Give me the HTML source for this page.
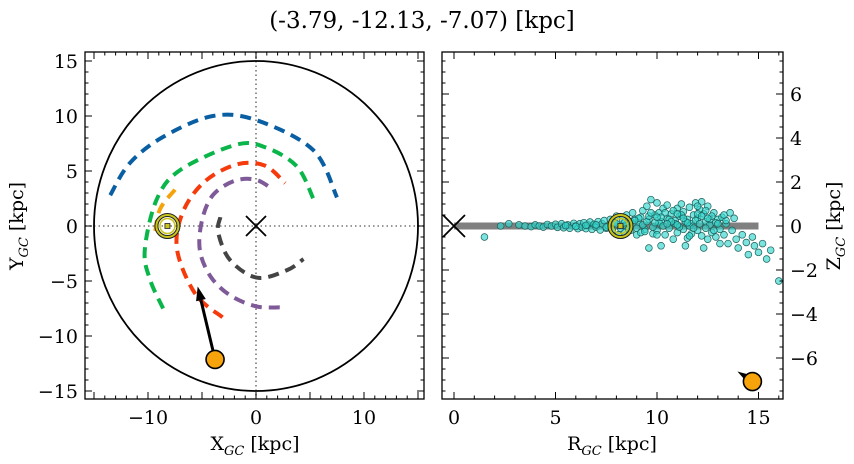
<!DOCTYPE html>
<html><head><meta charset="utf-8"><style>
html,body{margin:0;padding:0;background:#fff;}
svg{display:block;font-family:"DejaVu Serif","Liberation Serif",serif;}
</style></head><body>
<svg id="fig" width="854" height="464" viewBox="0 0 854 464" xmlns="http://www.w3.org/2000/svg">
<text x="422" y="28" font-size="23" text-anchor="middle">(-3.79, -12.13, -7.07) [kpc]</text>
<g id="left"></g>
<g id="right"></g>
</svg>
<script>
// ---- data ----
const armBlueX=[-13.5,-11.7,-8.6,-4,0.1,5.3,7.5];
const armBlueY=[2.8,5.7,8.1,10,9.6,6.9,2.6];
const armGreenX=[-8.6,-9.8,-10.3,-9.2,-7,-1.8,1,3.8,5.3];
const armGreenY=[-7.5,-4.9,-2.2,2.4,5.1,7.4,7.1,5.4,2.5];
const armRedX=[-3.1,-5.6,-7.3,-6.8,-4.8,-1.8,0.8,2.7];
const armRedY=[-8.3,-6.2,-2.2,1.2,4.0,5.6,5.5,3.9];
const armPurpleX=[2.2,0,-2.4,-4.2,-5.2,-5.0,-4.0,-2.0,0,1.6];
const armPurpleY=[-7.4,-7.3,-6.3,-4.6,-2.2,0.5,2.8,4.1,4.2,3.3];
const armGrayX=[-3.3,-3.5,-2.4,0.1,2.9,4.4];
const armGrayY=[0.8,-0.6,-3.1,-4.7,-4.0,-3.0];
const armOrangeX=[-7.5,-8.9,-9.4];
const armOrangeY=[3.3,1.5,-1.0];
const starX=-3.79, starY=-12.13, starZ=-7.07, starR=14.7;
const sunX=-8.2, sunR=8.2;
const arrowTipX=-5.4, arrowTipY=-5.5;
const xTicksL=[-10,0,10], yTicksL=[-15,-10,-5,0,5,10,15];
const xTicksR=[0,5,10,15], yTicksR=[-6,-4,-2,0,2,4,6];
const scatR=[
1.5,2.3,2.7,3.2,3.5,3.8,4.0,4.2,4.4,4.6,
4.8,5.0,5.1,5.3,5.4,5.6,5.7,5.9,6.0,6.1,
6.2,6.3,6.4,6.5,6.6,6.7,6.8,6.9,7.0,7.1,
7.2,7.3,7.4,7.5,7.6,7.7,7.8,7.9,8.0,8.1,
8.3,8.4,8.5,8.6,8.7,8.8,8.9,9.0,9.1,9.2,
9.3,9.4,9.5,9.6,9.6,9.7,9.8,9.9,10.0,10.0,
10.1,10.2,10.2,10.3,10.4,10.5,10.5,10.6,10.7,10.8,
10.9,11.0,11.0,11.1,11.2,11.3,11.3,11.4,11.5,11.5,
11.6,11.7,11.7,11.8,11.9,12.0,12.0,12.1,12.2,12.3,
12.3,12.4,12.5,12.5,12.6,12.7,12.8,12.9,13.0,13.1,
13.2,13.3,13.4,13.5,13.6,13.7,13.9,14.0,14.2,14.4,
14.5,14.7,14.8,15.0,15.2,15.4,15.6,16.0,13.8,12.2,
8.5,8.8,9.0,9.3,9.5,9.8,10.1,10.3,10.6,10.9,
11.1,11.4,11.6,11.9,12.1,12.4,12.6,12.9,13.1,13.4,
9.2,9.6,10.0,10.4,10.8,11.2,11.6,12.0,12.4,12.8,
8.7,9.1,9.4,9.9,10.2,10.7,11.0,11.8,12.2,12.7,
5.5,6.0,6.5,7.0,7.5,8.0,8.2,8.4,8.6,8.9,
10.0,10.5,11.0,11.5,12.0,12.5,13.0,13.3,9.7,11.3];
const scatZ=[
-0.5,0.0,0.1,0.05,0.0,-0.03,0.05,0.0,-0.05,0.07,
0.0,0.08,-0.06,0.1,-0.08,0.05,-0.1,0.12,0.0,-0.12,
0.1,-0.05,0.15,-0.12,0.05,0.18,-0.15,0.08,-0.05,0.2,
-0.18,0.1,0.25,-0.1,0.0,0.3,-0.2,0.15,0.45,-0.4,
0.3,-0.3,0.5,0.1,-0.2,0.6,0.3,-0.4,0.15,0.4,
0.7,-0.15,0.9,-1.0,0.3,1.2,-0.35,0.5,1.05,-0.2,
0.6,-0.9,0.2,0.8,-0.4,0.35,0.95,-0.1,0.55,-0.6,
0.25,0.8,-0.3,0.45,1.0,-0.15,0.65,-0.9,0.3,-0.55,
0.85,0.1,-0.35,0.5,1.05,-0.2,0.35,0.75,-0.45,-1.0,
0.55,0.2,-0.6,0.9,0.05,-0.3,0.6,-0.5,0.3,-0.8,
0.4,-0.4,0.1,-0.8,0.6,-0.2,-0.6,-1.0,-0.4,-0.75,
-1.3,-0.5,-0.9,-1.2,-0.8,-1.5,-1.1,-2.5,0.35,1.1,
0.0,0.1,-0.1,0.05,0.2,-0.05,0.15,0.0,0.3,0.1,
-0.05,0.2,0.0,0.25,0.1,-0.1,0.3,0.15,-0.15,0.25,
-0.3,0.45,-0.4,0.6,0.7,0.5,-0.45,0.55,0.7,-0.2,
0.2,0.35,-0.25,0.15,0.4,0.2,0.55,-0.1,0.45,0.45,
0.02,-0.02,0.03,0.05,-0.05,0.1,-0.1,0.15,-0.15,0.25,
0.4,0.1,0.05,0.15,0.9,0.35,0.1,0.5,0.6,0.35];

const NS="http://www.w3.org/2000/svg";
function mk(p,tag,at){const e=document.createElementNS(NS,tag);for(const k in at)e.setAttribute(k,at[k]);p.appendChild(e);return e;}
function path(pts){let d="M"+pts[0][0]+","+pts[0][1];for(let i=0;i<pts.length-1;i++){const p0=pts[Math.max(0,i-1)],p1=pts[i],p2=pts[i+1],p3=pts[Math.min(pts.length-1,i+2)];d+=" C"+(p1[0]+(p2[0]-p0[0])/6)+","+(p1[1]+(p2[1]-p0[1])/6)+" "+(p2[0]-(p3[0]-p1[0])/6)+","+(p2[1]-(p3[1]-p1[1])/6)+" "+p2[0]+","+p2[1];}return d;}
const SUB='<tspan font-size="13" font-style="italic" dy="5">GC</tspan><tspan dy="-5"> [kpc]</tspan>';

// ---- left panel ----
const L=document.getElementById('left');
const Lx0=85,Lx1=424,Ly0=52,Ly1=399;
const lx=v=>256+v*10.8, ly=v=>226-v*11.0;
let e;
e=mk(L,'line',{x1:Lx0,x2:Lx1,y1:ly(0),y2:ly(0),stroke:'#777','stroke-width':1.6,'stroke-dasharray':'1.5,3'});


e=mk(L,'line',{x1:lx(0),x2:lx(0),y1:Ly0,y2:Ly1,stroke:'#777','stroke-width':1.6,'stroke-dasharray':'1.5,3'});


e=mk(L,'ellipse',{cx:lx(0),cy:ly(0),rx:15*10.8,ry:15*11,fill:'none',stroke:'#000','stroke-width':1.8});


const arms=[[armBlueX,armBlueY,'#0a5fa3','blue'],[armGreenX,armGreenY,'#0ab54a','green'],[armRedX,armRedY,'#f53a0c','red'],[armPurpleX,armPurpleY,'#7f5a98','purple'],[armGrayX,armGrayY,'#444','gray'],[armOrangeX,armOrangeY,'#f5a30a','orange']];
arms.forEach(a=>{const pts=a[0].map((x,i)=>[lx(x),ly(a[1][i])]);
 e=mk(L,'path',{d:path(pts),fill:'none',stroke:a[2],'stroke-width':4,'stroke-dasharray':'11,7'});
 
 });
e=mk(L,'path',{d:`M${lx(0)-10},${ly(0)-10}L${lx(0)+10},${ly(0)+10}M${lx(0)-10},${ly(0)+10}L${lx(0)+10},${ly(0)-10}`,stroke:'#000','stroke-width':1.8});


function sun(p,cx,cy,nm){const g=mk(p,'g',{});
 
 
 mk(g,'circle',{cx:cx,cy:cy,r:11,fill:'none',stroke:'#222','stroke-width':4});
 mk(g,'circle',{cx:cx,cy:cy,r:11,fill:'none',stroke:'#c8c41a','stroke-width':2});
 mk(g,'circle',{cx:cx,cy:cy,r:7.5,fill:'none',stroke:'#c8c41a','stroke-width':1.5});
 mk(g,'rect',{x:cx-2.5,y:cy-2.5,width:5,height:5,fill:'#c8c41a',stroke:'#222','stroke-width':0.8});}
sun(L,lx(sunX),ly(0),'sun-marker-xy');
{const x1=lx(starX),y1=ly(starY),x2=lx(arrowTipX),y2=ly(arrowTipY);const dx=x2-x1,dy=y2-y1,len=Math.hypot(dx,dy),ux=dx/len,uy=dy/len;
 const bx=x2-ux*14,by=y2-uy*14;
 e=mk(L,'line',{x1:x1,y1:y1,x2:bx,y2:by,stroke:'#000','stroke-width':3});
 
 
 e=mk(L,'polygon',{points:`${x2},${y2} ${bx-uy*5},${by+ux*5} ${bx+uy*5},${by-ux*5}`,fill:'#000'});
 
 }
e=mk(L,'circle',{cx:lx(starX),cy:ly(starY),r:9,fill:'#f7a30c',stroke:'#000','stroke-width':1.6});



function frame(p,x0,x1,y0,y1,nm){e=mk(p,'rect',{x:x0,y:y0,width:x1-x0,height:y1-y0,fill:'none',stroke:'#000','stroke-width':1.3});
 
 }
function ticks(p,x0,x1,y0,y1,sx,sy,xmin,xmax,xmaj,xmin_,ymin,ymax,ymaj,ymin_){
 const g=mk(p,'g',{stroke:'#000','stroke-width':1});
 for(let v=Math.ceil(xmin/xmin_)*xmin_;v<=xmax;v+=xmin_){const X=sx(v);const maj=Math.abs(v/xmaj-Math.round(v/xmaj))<1e-6;const l=maj?7:3.5;
  mk(g,'line',{x1:X,x2:X,y1:y1,y2:y1-l});mk(g,'line',{x1:X,x2:X,y1:y0,y2:y0+l});}
 for(let v=Math.ceil(ymin/ymin_)*ymin_;v<=ymax;v+=ymin_){const Y=sy(v);const maj=Math.abs(v/ymaj-Math.round(v/ymaj))<1e-6;const l=maj?7:3.5;
  mk(g,'line',{y1:Y,y2:Y,x1:x0,x2:x0+l});mk(g,'line',{y1:Y,y2:Y,x1:x1,x2:x1-l});}}
ticks(L,Lx0,Lx1,Ly0,Ly1,lx,ly,-15.8,15.6,5,1,-15.7,15.8,5,1);
frame(L,Lx0,Lx1,Ly0,Ly1,'xy-axes-frame');
xTicksL.forEach(v=>{e=mk(L,'text',{x:lx(v),y:424,'font-size':19,'text-anchor':'middle'});e.textContent=String(v).replace('-','\u2212');
 
 });
yTicksL.forEach(v=>{e=mk(L,'text',{x:78,y:ly(v)+7,'font-size':19,'text-anchor':'end'});e.textContent=String(v).replace('-','\u2212');
 
 });
e=mk(L,'text',{x:255,y:450,'font-size':19,'text-anchor':'middle'});e.innerHTML='X'+SUB;


e=mk(L,'text',{x:0,y:0,'font-size':19,'text-anchor':'middle',transform:'translate(23,226) rotate(-90)'});e.innerHTML='Y'+SUB;



// ---- right panel ----
const R=document.getElementById('right');
const Rx0=442,Rx1=783,Ry0=52,Ry1=399;
const rx=v=>454+v*20.3, rz=v=>226-v*22.0;
const cp=mk(R,'clipPath',{id:'rclip'});mk(cp,'rect',{x:Rx0,y:Ry0,width:Rx1-Rx0,height:Ry1-Ry0});
const RG=mk(R,'g',{'clip-path':'url(#rclip)'});
e=mk(RG,'line',{x1:rx(0),x2:rx(15),y1:rz(0),y2:rz(0),stroke:'#808080','stroke-width':7});


const sg=mk(RG,'g',{});


scatR.forEach((r,i)=>{e=mk(sg,'circle',{cx:rx(r),cy:rz(scatZ[i]),r:3.4,fill:'rgba(50,215,205,0.65)',stroke:'#1b5e5a','stroke-width':0.7});
 
 });
e=mk(RG,'path',{d:`M${rx(0)-11},${rz(0)-11}L${rx(0)+11},${rz(0)+11}M${rx(0)-11},${rz(0)+11}L${rx(0)+11},${rz(0)-11}`,stroke:'#000','stroke-width':1.8});


sun(RG,rx(sunR),rz(0),'sun-marker-rz');
e=mk(RG,'polygon',{points:`${rx(starR)-15},${rz(starZ)-10} ${rx(starR)-4},${rz(starZ)-7} ${rx(starR)-7},${rz(starZ)-1}`,fill:'#000'});


e=mk(RG,'circle',{cx:rx(starR),cy:rz(starZ),r:9,fill:'#f7a30c',stroke:'#000','stroke-width':1.6});


ticks(R,Rx0,Rx1,Ry0,Ry1,rx,rz,-0.6,16.2,5,1,-7.86,7.9,2,0.5);
frame(R,Rx0,Rx1,Ry0,Ry1,'rz-axes-frame');
xTicksR.forEach(v=>{e=mk(R,'text',{x:rx(v),y:424,'font-size':19,'text-anchor':'middle'});e.textContent=String(v);
 
 });
yTicksR.forEach(v=>{e=mk(R,'text',{x:790,y:rz(v)+7,'font-size':19,'text-anchor':'start'});e.textContent=String(v).replace('-','\u2212');
 
 });
e=mk(R,'text',{x:612,y:450,'font-size':19,'text-anchor':'middle'});e.innerHTML='R'+SUB;


e=mk(R,'text',{x:0,y:0,'font-size':19,'text-anchor':'middle',transform:'translate(840,226) rotate(-90)'});e.innerHTML='Z'+SUB;


</script>
</body></html>
